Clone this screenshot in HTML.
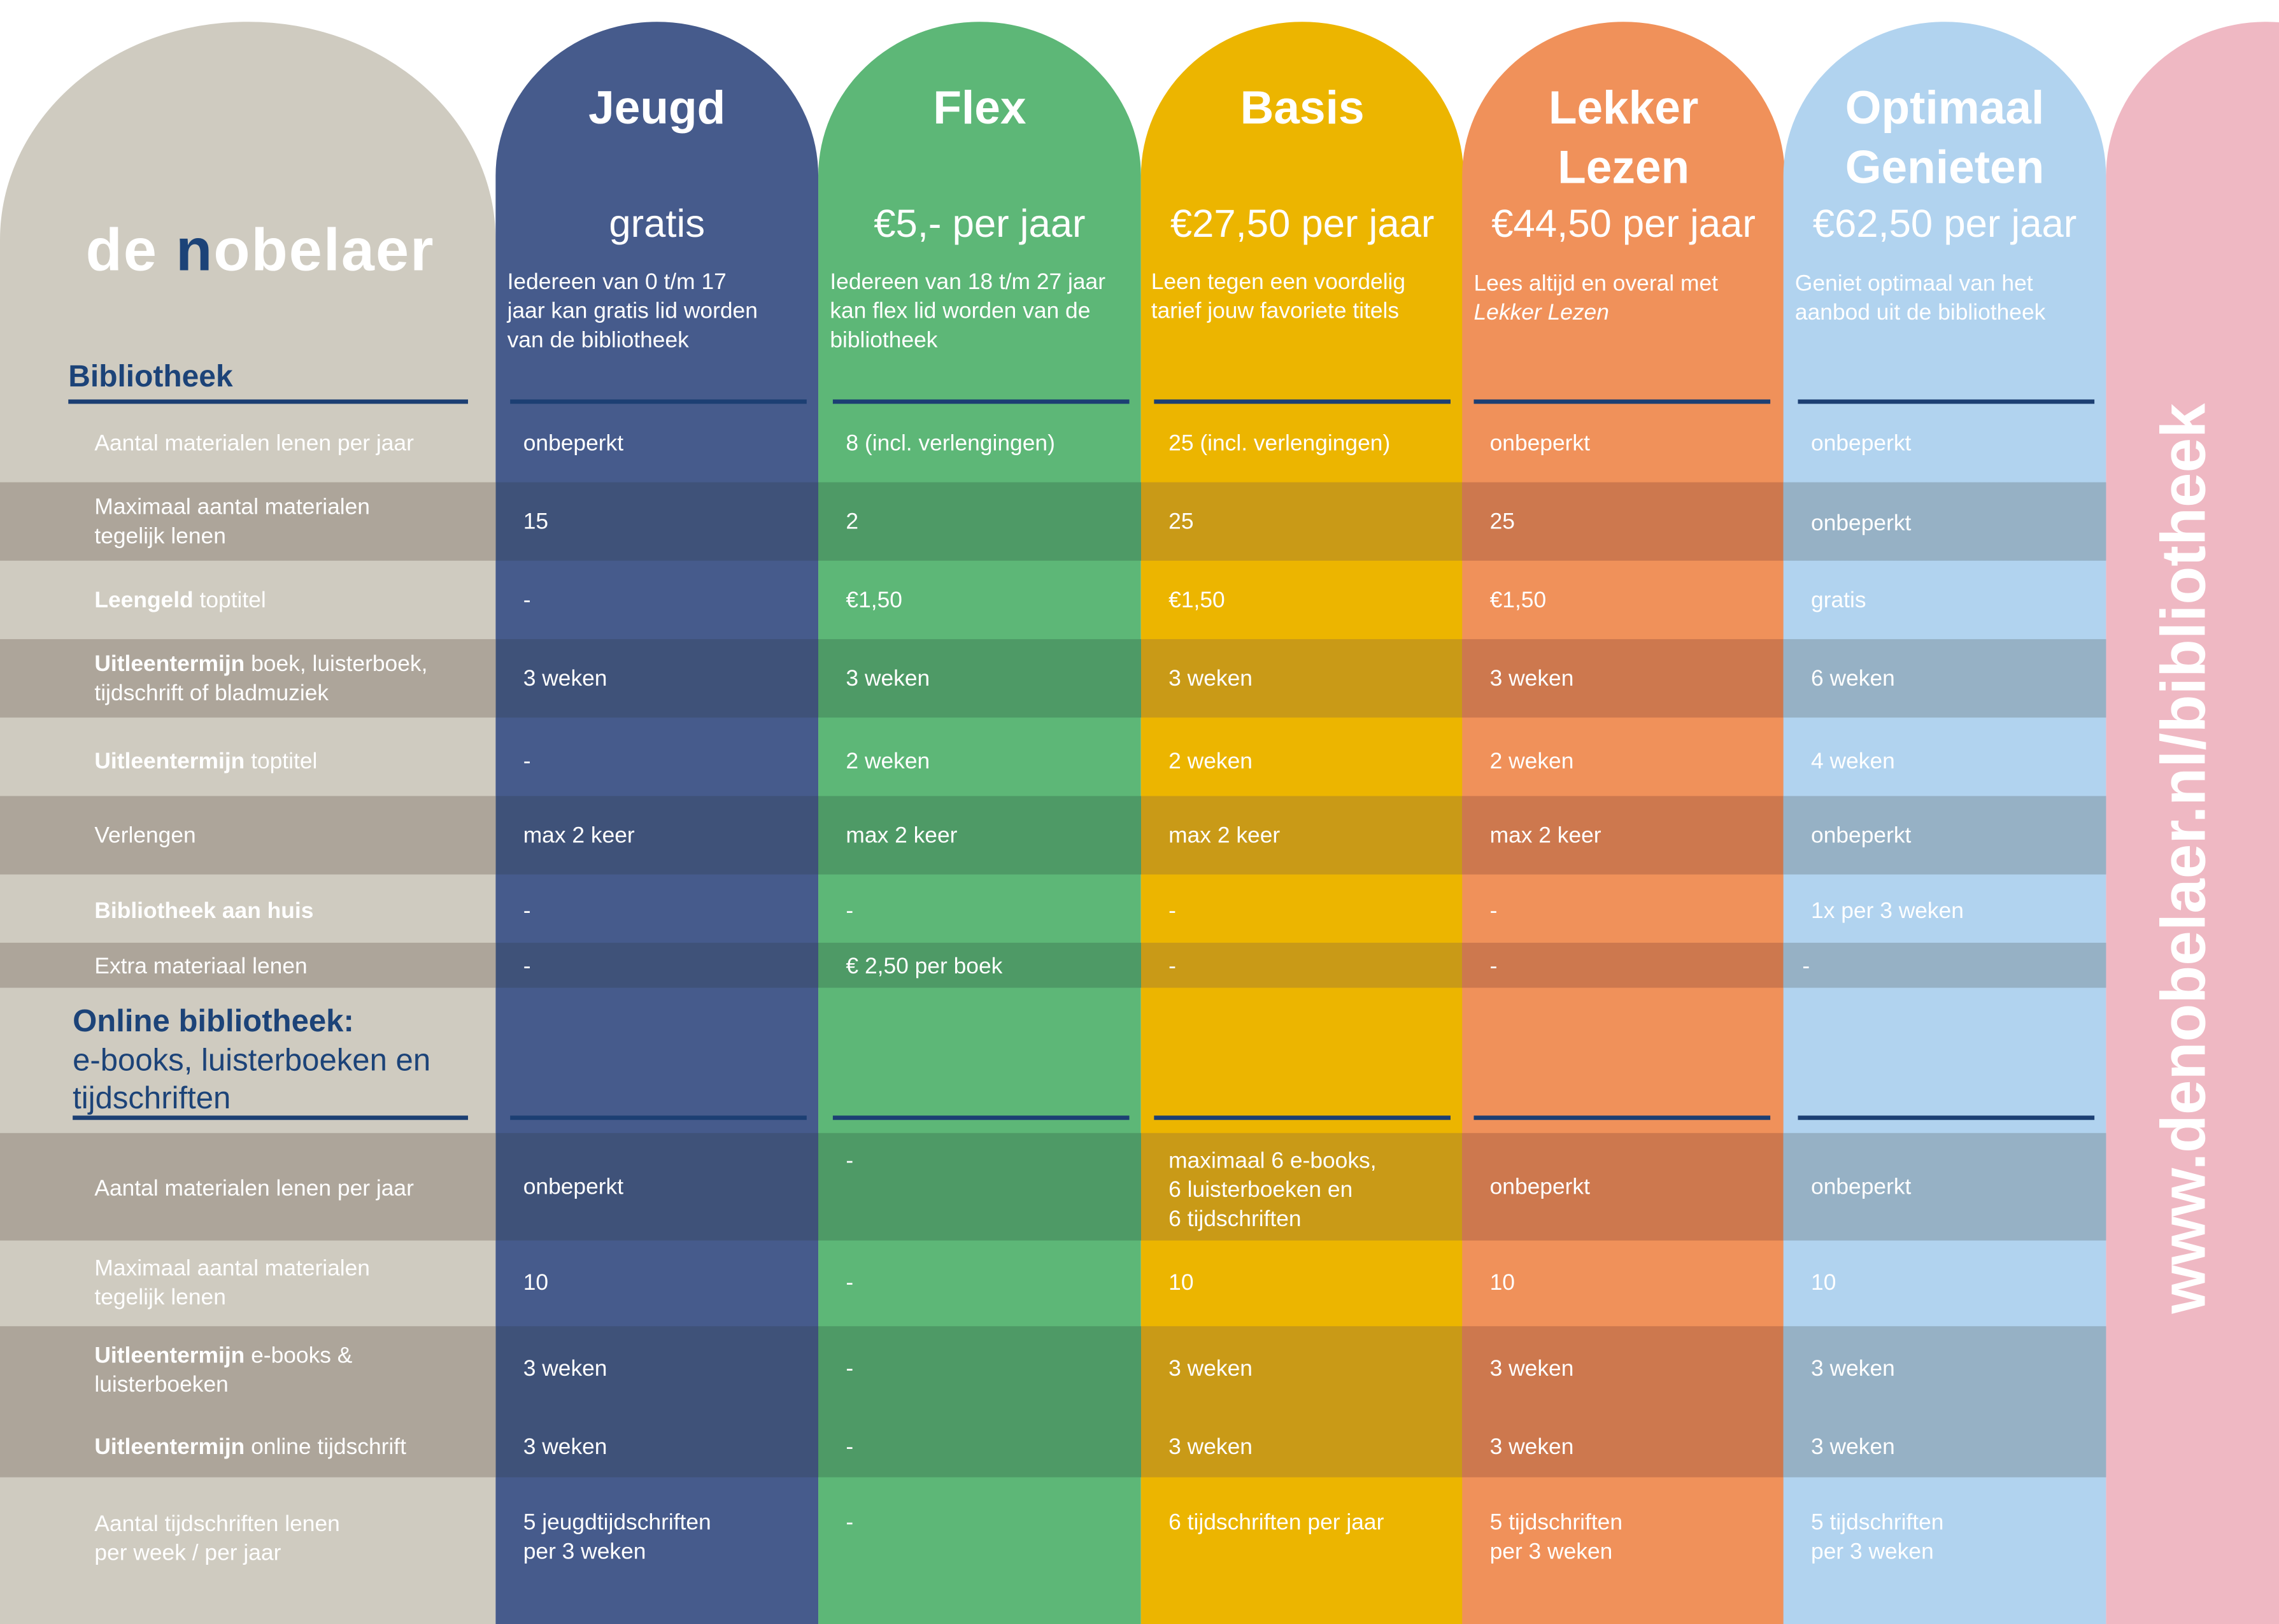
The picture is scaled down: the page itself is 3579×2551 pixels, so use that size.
<!DOCTYPE html>
<html><head><meta charset="utf-8">
<style>
*{margin:0;padding:0;box-sizing:border-box}
html,body{width:3579px;height:2551px;overflow:hidden;background:#fff}
#s{position:absolute;left:0;top:0;width:1568px;height:1118px;transform-origin:0 0;transform:scale(2.28253,2.28175);font-family:"Liberation Sans",sans-serif;color:#fff;overflow:hidden}
.a{position:absolute;top:15px;height:1103px;width:222px;border-radius:111px 111px 0 0/106px 106px 0 0}
.b{position:absolute;left:0;width:1449px;background:linear-gradient(to right,#ada59a 0 341px,#3f5279 341px 563px,#4e9a66 563px 785px,#c99a17 785px 1006px,#cd784e 1006px 1227px,#96b1c5 1227px 1449px)}
.t{position:absolute;font-size:15.5px;line-height:20px;white-space:nowrap;margin-top:1.5px}
.h{position:absolute;font-weight:bold;font-size:32px;line-height:41px;text-align:center;width:222px}
.p{position:absolute;font-size:27px;line-height:30px;text-align:center;width:222px;top:139px}
.d{position:absolute;font-size:15.5px;line-height:20px;top:185px;white-space:nowrap}
.l{position:absolute;height:2.5px;background:#1c3f73;width:204px}
b{font-weight:bold}
</style></head><body><div id="s">
<div class="a" style="left:0;width:341px;border-radius:170px 170px 0 0/150px 150px 0 0;background:#cfcbc0"></div>
<div class="a" style="left:341px;background:#465b8c"></div>
<div class="a" style="left:563px;background:#5db777"></div>
<div class="a" style="left:785px;background:#ecb500"></div>
<div class="a" style="left:1006px;background:#f0915a"></div>
<div class="a" style="left:1227px;background:#b1d3ef"></div>
<div class="a" style="left:1449px;width:220px;border-radius:110px 110px 0 0/106px 106px 0 0;background:#efb8c3"></div>

<div class="b" style="top:332px;height:54px"></div>
<div class="b" style="top:440px;height:54px"></div>
<div class="b" style="top:548px;height:54px"></div>
<div class="b" style="top:649px;height:31px"></div>
<div class="b" style="top:780px;height:74px"></div>
<div class="b" style="top:913px;height:104px"></div>

<div style="position:absolute;left:59px;top:149px;font-size:41px;font-weight:bold;letter-spacing:0.9px;line-height:46px">de <span style="color:#1c4378">n</span>obelaer</div>

<div class="h" style="left:341px;top:54px">Jeugd</div>
<div class="h" style="left:563px;top:54px">Flex</div>
<div class="h" style="left:785px;top:54px">Basis</div>
<div class="h" style="left:1006px;top:54px">Lekker<br>Lezen</div>
<div class="h" style="left:1227px;top:54px">Optimaal<br>Genieten</div>

<div class="p" style="left:341px">gratis</div>
<div class="p" style="left:563px">€5,- per jaar</div>
<div class="p" style="left:785px">€27,50 per jaar</div>
<div class="p" style="left:1006px">€44,50 per jaar</div>
<div class="p" style="left:1227px">€62,50 per jaar</div>

<div class="d" style="left:349px">Iedereen van 0 t/m 17<br>jaar kan gratis lid worden<br>van de bibliotheek</div>
<div class="d" style="left:571px">Iedereen van 18 t/m 27 jaar<br>kan flex lid worden van de<br>bibliotheek</div>
<div class="d" style="left:792px">Leen tegen een voordelig<br>tarief jouw favoriete titels</div>
<div class="d" style="left:1014px;top:186px">Lees altijd en overal met<br><i>Lekker Lezen</i></div>
<div class="d" style="left:1235px;top:186px">Geniet optimaal van het<br>aanbod uit de bibliotheek</div>

<div style="position:absolute;left:47px;top:248px;font-size:21px;font-weight:bold;color:#1c4378">Bibliotheek</div>
<div class="l" style="left:47px;width:275px;top:275px"></div>
<div class="l" style="left:351px;top:275px"></div>
<div class="l" style="left:573px;top:275px"></div>
<div class="l" style="left:794px;top:275px"></div>
<div class="l" style="left:1014px;top:275px"></div>
<div class="l" style="left:1237px;top:275px"></div>

<div style="position:absolute;left:50px;top:690px;font-size:21.5px;line-height:26.5px;color:#1c4378;white-space:nowrap"><b>Online bibliotheek:</b><br>e-books, luisterboeken en<br>tijdschriften</div>
<div class="l" style="left:50px;width:272px;top:768px"></div>
<div class="l" style="left:351px;top:768px"></div>
<div class="l" style="left:573px;top:768px"></div>
<div class="l" style="left:794px;top:768px"></div>
<div class="l" style="left:1014px;top:768px"></div>
<div class="l" style="left:1237px;top:768px"></div>

<!-- labels -->
<div class="t" style="left:65px;top:294px">Aantal materialen lenen per jaar</div>
<div class="t" style="left:65px;top:338px">Maximaal aantal materialen<br>tegelijk lenen</div>
<div class="t" style="left:65px;top:402px"><b>Leengeld</b> toptitel</div>
<div class="t" style="left:65px;top:446px"><b>Uitleentermijn</b> boek, luisterboek,<br>tijdschrift of bladmuziek</div>
<div class="t" style="left:65px;top:513px"><b>Uitleentermijn</b> toptitel</div>
<div class="t" style="left:65px;top:564px">Verlengen</div>
<div class="t" style="left:65px;top:616px"><b>Bibliotheek aan huis</b></div>
<div class="t" style="left:65px;top:654px">Extra materiaal lenen</div>
<div class="t" style="left:65px;top:807px">Aantal materialen lenen per jaar</div>
<div class="t" style="left:65px;top:862px">Maximaal aantal materialen<br>tegelijk lenen</div>
<div class="t" style="left:65px;top:922px"><b>Uitleentermijn</b> e-books &amp;<br>luisterboeken</div>
<div class="t" style="left:65px;top:985px"><b>Uitleentermijn</b> online tijdschrift</div>
<div class="t" style="left:65px;top:1038px">Aantal tijdschriften lenen<br>per week / per jaar</div>

<!-- Jeugd -->
<div class="t" style="left:360px;top:294px">onbeperkt</div>
<div class="t" style="left:360px;top:348px">15</div>
<div class="t" style="left:360px;top:402px">-</div>
<div class="t" style="left:360px;top:456px">3 weken</div>
<div class="t" style="left:360px;top:513px">-</div>
<div class="t" style="left:360px;top:564px">max 2 keer</div>
<div class="t" style="left:360px;top:616px">-</div>
<div class="t" style="left:360px;top:654px">-</div>
<div class="t" style="left:360px;top:806px">onbeperkt</div>
<div class="t" style="left:360px;top:872px">10</div>
<div class="t" style="left:360px;top:931px">3 weken</div>
<div class="t" style="left:360px;top:985px">3 weken</div>
<div class="t" style="left:360px;top:1037px">5 jeugdtijdschriften<br>per 3 weken</div>

<!-- Flex -->
<div class="t" style="left:582px;top:294px">8 (incl. verlengingen)</div>
<div class="t" style="left:582px;top:348px">2</div>
<div class="t" style="left:582px;top:402px">€1,50</div>
<div class="t" style="left:582px;top:456px">3 weken</div>
<div class="t" style="left:582px;top:513px">2 weken</div>
<div class="t" style="left:582px;top:564px">max 2 keer</div>
<div class="t" style="left:582px;top:616px">-</div>
<div class="t" style="left:582px;top:654px">€ 2,50 per boek</div>
<div class="t" style="left:582px;top:788px">-</div>
<div class="t" style="left:582px;top:872px">-</div>
<div class="t" style="left:582px;top:931px">-</div>
<div class="t" style="left:582px;top:985px">-</div>
<div class="t" style="left:582px;top:1037px">-</div>

<!-- Basis -->
<div class="t" style="left:804px;top:294px">25 (incl. verlengingen)</div>
<div class="t" style="left:804px;top:348px">25</div>
<div class="t" style="left:804px;top:402px">€1,50</div>
<div class="t" style="left:804px;top:456px">3 weken</div>
<div class="t" style="left:804px;top:513px">2 weken</div>
<div class="t" style="left:804px;top:564px">max 2 keer</div>
<div class="t" style="left:804px;top:616px">-</div>
<div class="t" style="left:804px;top:654px">-</div>
<div class="t" style="left:804px;top:788px">maximaal 6 e-books,<br>6 luisterboeken en<br>6 tijdschriften</div>
<div class="t" style="left:804px;top:872px">10</div>
<div class="t" style="left:804px;top:931px">3 weken</div>
<div class="t" style="left:804px;top:985px">3 weken</div>
<div class="t" style="left:804px;top:1037px">6 tijdschriften per jaar</div>

<!-- Lekker -->
<div class="t" style="left:1025px;top:294px">onbeperkt</div>
<div class="t" style="left:1025px;top:348px">25</div>
<div class="t" style="left:1025px;top:402px">€1,50</div>
<div class="t" style="left:1025px;top:456px">3 weken</div>
<div class="t" style="left:1025px;top:513px">2 weken</div>
<div class="t" style="left:1025px;top:564px">max 2 keer</div>
<div class="t" style="left:1025px;top:616px">-</div>
<div class="t" style="left:1025px;top:654px">-</div>
<div class="t" style="left:1025px;top:806px">onbeperkt</div>
<div class="t" style="left:1025px;top:872px">10</div>
<div class="t" style="left:1025px;top:931px">3 weken</div>
<div class="t" style="left:1025px;top:985px">3 weken</div>
<div class="t" style="left:1025px;top:1037px">5 tijdschriften<br>per 3 weken</div>

<!-- Optimaal -->
<div class="t" style="left:1246px;top:294px">onbeperkt</div>
<div class="t" style="left:1246px;top:349px">onbeperkt</div>
<div class="t" style="left:1246px;top:402px">gratis</div>
<div class="t" style="left:1246px;top:456px">6 weken</div>
<div class="t" style="left:1246px;top:513px">4 weken</div>
<div class="t" style="left:1246px;top:564px">onbeperkt</div>
<div class="t" style="left:1246px;top:616px">1x per 3 weken</div>
<div class="t" style="left:1240px;top:654px">-</div>
<div class="t" style="left:1246px;top:806px">onbeperkt</div>
<div class="t" style="left:1246px;top:872px">10</div>
<div class="t" style="left:1246px;top:931px">3 weken</div>
<div class="t" style="left:1246px;top:985px">3 weken</div>
<div class="t" style="left:1246px;top:1037px">5 tijdschriften<br>per 3 weken</div>

<div style="position:absolute;left:1503px;top:591px;transform:translate(-50%,-50%) rotate(-90deg);font-size:43px;font-weight:bold;white-space:nowrap;line-height:48px">www.denobelaer.nl/bibliotheek</div>
</div></body></html>
